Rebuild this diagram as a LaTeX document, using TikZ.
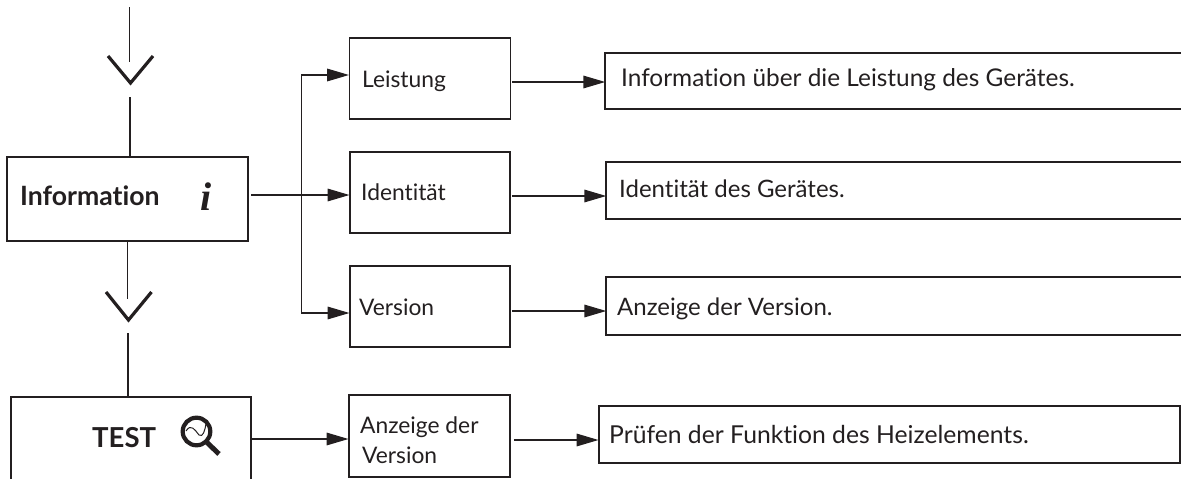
\documentclass[tikz,border=0pt]{standalone}
\usepackage{fontspec}
\setmainfont[Ligatures=NoCommon]{Lato}
\newfontfamily\serifi{Liberation Serif}
\usetikzlibrary{arrows.meta}
\definecolor{ink}{HTML}{231F20}
\tikzset{
  x=1pt,y=-1pt,
  box/.style={draw=ink,line width=1.9pt,inner sep=0pt,fill=none},
  openbox/.style={inner sep=0pt},
  conn/.style={draw=ink,line width=1.7pt},
  arr/.style={conn,-{Triangle[length=22pt,width=12.5pt,color=ink]},shorten >=-0.5pt},
  chev/.style={draw=ink,line width=3.2pt,miter limit=10},
  txt/.style={anchor=base west,inner sep=0pt,text=ink,font=\fontsize{22.8}{24}\selectfont},
  rtxt/.style={txt,font=\fontsize{24}{26}\selectfont},
  btxt/.style={txt,font=\fontsize{26.6}{28}\selectfont\bfseries},
}
\begin{document}
\begin{tikzpicture}
\useasboundingbox (0,0) rectangle (1181,479);
% main boxes
\node[box,minimum width=241,minimum height=84] (info) at (127.5,199) {};
\node[openbox,minimum width=240,minimum height=82] (test) at (131,438) {};
\draw[conn,line width=1.9pt] (test.south west) -- (test.north west) -- (test.north east) -- (test.south east);
% middle boxes
\node[box,minimum width=161,minimum height=81] (leist) at (430,78.5) {};
\node[box,minimum width=160,minimum height=81] (ident) at (430,192.5) {};
\node[box,minimum width=160,minimum height=81] (vers) at (430,306.5) {};
\node[box,minimum width=161,minimum height=82] (anz) at (429.5,436) {};
% right boxes
\node[openbox,minimum width=576,minimum height=56] (rleist) at (893,81) {};
\node[openbox,minimum width=575,minimum height=57] (rident) at (893.5,190.5) {};
\node[openbox,minimum width=575,minimum height=58] (rvers) at (893.5,306) {};
\node[box,minimum width=581,minimum height=57] (rtest) at (889.5,434.5) {};
\foreach \n in {rleist,rident,rvers}{
  \draw[conn,line width=1.9pt] (\n.north east) -- (\n.north west) -- (\n.south west) -- (\n.south east);
}
% texts
\node[btxt] (tinfo) at (20,205) {Information};
\node[anchor=base west,inner sep=0pt,text=ink,font=\serifi\fontsize{40}{42}\selectfont\bfseries\itshape] (ti) at (200,210.5) {i};
\node[btxt,font=\fontsize{27.5}{28}\selectfont\bfseries] (ttest) at (92,447) {TEST};
\node[txt] (tleist) at (362,87) {Leistung};
\node[txt] (tident) at (361,200) {Identität};
\node[txt] (tvers) at (359,315) {Version};
\node[txt] (tanz1) at (360,433) {Anzeige der};
\node[txt] (tanz2) at (362,463) {Version};
\node[rtxt,font=\fontsize{24.4}{26}\selectfont] (trl) at (621,86) {Information über die Leistung des Gerätes.};
\node[rtxt] (tri) at (619,197) {Identität des Gerätes.};
\node[rtxt] (trv) at (617,315) {Anzeige der Version.};
\node[rtxt,font=\fontsize{24.7}{26}\selectfont] (trt) at (609,443) {Prüfen der Funktion des Heizelements.};
% magnifier
\draw[ink,line width=4.2pt] (196.5,431.5) circle (13.8);
\draw[ink,line width=5pt] (207,442.5) -- (219,454);
\draw[ink,line width=1pt] (186,431) .. controls (191,423) and (195,430) .. (199,435) .. controls (203,438) and (205,430) .. (206,424);
% top flow
\coordinate (start) at (129.5,7);
\coordinate (c1a) at (129.5,62);
\coordinate (c1b) at (130,97);
\draw[conn] (start) -- (c1a);
\draw[chev] (108,56) -- (130.5,83) -- (153,56);
\draw[conn] (c1b) -- (c1b |- info.north);
\coordinate (c2a) at (127.5,299);
\coordinate (c2b) at (128,333);
\draw[conn] (c2a |- info.south) -- (c2a);
\draw[chev] (106,292) -- (128.5,320) -- (151.5,292);
\draw[conn] (c2b) -- (c2b |- test.north);
% branches
\coordinate (inout) at (251,195);
\coordinate (bus) at (301.5,195);
\draw[arr] (inout) -- (ident.west |- inout);
\draw[arr] (bus) |- ([yshift=3.5pt]leist.west);
\draw[arr] (bus) |- ([yshift=-6.5pt]vers.west);
\draw[arr] (252,439) -- (anz.west |- 0,439);
\draw[arr] ([xshift=1pt,yshift=-3.5pt]leist.east) -- (rleist.west |- 0,82);
\draw[arr] ([xshift=1pt,yshift=-3.5pt]ident.east) -- (rident.west |- 0,196);
\draw[arr] ([xshift=1pt,yshift=-4.5pt]vers.east) -- (rvers.west |- 0,311);
\draw[arr] ([xshift=3pt,yshift=-4pt]anz.east) -- (rtest.west |- 0,440);
\end{tikzpicture}
\end{document}
